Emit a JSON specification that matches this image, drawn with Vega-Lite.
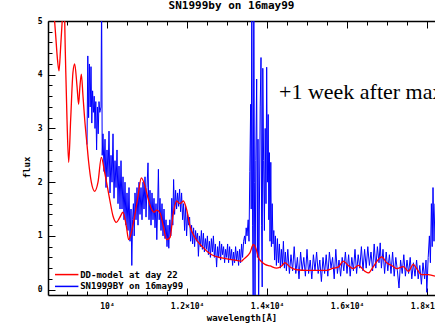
{
  "$schema": "https://vega.github.io/schema/vega-lite/v6.json",
  "autosize": {"type": "none"},
  "padding": {"left": 48, "top": 21, "right": 0, "bottom": 29},
  "width": 387,
  "height": 274,
  "background": "white",
  "title": {"text": "SN1999by on 16may99", "font": "DejaVu Sans Mono", "fontWeight": "bold", "fontSize": 11, "color": "black", "anchor": "middle", "dx": -10, "offset": 6},
  "config": {
    "view": {"stroke": null},
    "axis": {"grid": false, "domainColor": "black", "domainWidth": 1.5, "tickColor": "black", "tickWidth": 1, "labelColor": "black", "titleColor": "black", "labelFont": "DejaVu Sans Mono", "labelFontWeight": "bold", "labelFontSize": 8, "titleFont": "DejaVu Sans Mono", "titleFontWeight": "bold", "titleFontSize": 9, "labelOverlap": false, "labelFlush": false}
  },
  "datasets": {
    "sn": [
      {"x": 9500, "y": 2.7}, {"x": 9520, "y": 4.35}, {"x": 9540, "y": 3.2}, {"x": 9560, "y": 4.2}, {"x": 9580, "y": 3.4}, {"x": 9600, "y": 4.15}, {"x": 9620, "y": 3.1}, {"x": 9640, "y": 3.7}, {"x": 9660, "y": 3.3}, {"x": 9680, "y": 3.6}, {"x": 9700, "y": 3.0}, {"x": 9720, "y": 3.5}, {"x": 9740, "y": 2.6}, {"x": 9760, "y": 3.4}, {"x": 9780, "y": 2.9}, {"x": 9800, "y": 3.5}, {"x": 9820, "y": 3.3}, {"x": 9850, "y": 3.4}, {"x": 9865, "y": 5.6}, {"x": 9880, "y": 2.5},
      {"x": 9900, "y": 2.9}, {"x": 9925, "y": 2.2}, {"x": 9950, "y": 2.8}, {"x": 9975, "y": 1.9}, {"x": 10000, "y": 2.6}, {"x": 10025, "y": 2.1}, {"x": 10050, "y": 2.95}, {"x": 10075, "y": 1.8}, {"x": 10100, "y": 2.5}, {"x": 10125, "y": 2.0}, {"x": 10150, "y": 2.9}, {"x": 10175, "y": 1.7}, {"x": 10200, "y": 2.4}, {"x": 10225, "y": 1.9}, {"x": 10250, "y": 2.6}, {"x": 10275, "y": 1.6}, {"x": 10300, "y": 2.3}, {"x": 10325, "y": 1.5}, {"x": 10350, "y": 2.4}, {"x": 10375, "y": 1.5}, {"x": 10400, "y": 2.1}, {"x": 10425, "y": 1.3}, {"x": 10450, "y": 2.0}, {"x": 10475, "y": 1.2},
      {"x": 10500, "y": 1.8}, {"x": 10525, "y": 1.1}, {"x": 10550, "y": 1.9}, {"x": 10575, "y": 0.9}, {"x": 10600, "y": 1.5}, {"x": 10620, "y": 0.45}, {"x": 10640, "y": 1.3}, {"x": 10660, "y": 1.6}, {"x": 10680, "y": 1.0}, {"x": 10700, "y": 1.8},
      {"x": 10725, "y": 1.3}, {"x": 10750, "y": 1.9}, {"x": 10775, "y": 1.2}, {"x": 10800, "y": 2.0}, {"x": 10825, "y": 1.4}, {"x": 10850, "y": 1.9}, {"x": 10875, "y": 1.3}, {"x": 10900, "y": 2.0}, {"x": 10925, "y": 1.5}, {"x": 10950, "y": 2.1}, {"x": 10975, "y": 1.35}, {"x": 11000, "y": 1.9}, {"x": 11025, "y": 2.36}, {"x": 11050, "y": 1.3}, {"x": 11075, "y": 1.85}, {"x": 11100, "y": 1.2}, {"x": 11125, "y": 1.8}, {"x": 11150, "y": 1.3}, {"x": 11175, "y": 1.7}, {"x": 11200, "y": 1.15}, {"x": 11225, "y": 1.6}, {"x": 11245, "y": 0.93}, {"x": 11265, "y": 1.5}, {"x": 11285, "y": 2.24}, {"x": 11305, "y": 1.3}, {"x": 11325, "y": 1.7}, {"x": 11350, "y": 1.1}, {"x": 11375, "y": 1.6}, {"x": 11400, "y": 1.0}, {"x": 11425, "y": 1.5}, {"x": 11450, "y": 0.95}, {"x": 11475, "y": 1.3}, {"x": 11500, "y": 0.8}, {"x": 11525, "y": 1.2}, {"x": 11545, "y": 0.77}, {"x": 11570, "y": 1.3}, {"x": 11595, "y": 1.0}, {"x": 11620, "y": 1.7}, {"x": 11645, "y": 1.2}, {"x": 11665, "y": 2.05}, {"x": 11690, "y": 1.4}, {"x": 11715, "y": 1.85}, {"x": 11740, "y": 1.5}, {"x": 11765, "y": 1.8}, {"x": 11790, "y": 1.55}, {"x": 11815, "y": 1.87}, {"x": 11840, "y": 1.45}, {"x": 11865, "y": 1.8}, {"x": 11890, "y": 1.3}, {"x": 11915, "y": 1.6},
      {"x": 11940, "y": 1.1}, {"x": 11965, "y": 1.55}, {"x": 11990, "y": 1.0}, {"x": 12015, "y": 1.4}, {"x": 12040, "y": 1.2}, {"x": 12065, "y": 1.35}, {"x": 12090, "y": 0.9}, {"x": 12115, "y": 1.2}, {"x": 12140, "y": 0.85}, {"x": 12165, "y": 1.15}, {"x": 12190, "y": 0.8}, {"x": 12215, "y": 1.1}, {"x": 12240, "y": 0.9}, {"x": 12265, "y": 1.05}, {"x": 12285, "y": 0.62}, {"x": 12310, "y": 1.0}, {"x": 12335, "y": 0.8}, {"x": 12360, "y": 1.1}, {"x": 12385, "y": 0.75}, {"x": 12410, "y": 1.05}, {"x": 12435, "y": 0.7}, {"x": 12460, "y": 0.95}, {"x": 12485, "y": 0.75}, {"x": 12510, "y": 1.0}, {"x": 12535, "y": 0.65}, {"x": 12560, "y": 0.9}, {"x": 12585, "y": 0.6}, {"x": 12610, "y": 0.95},
      {"x": 12635, "y": 0.7}, {"x": 12660, "y": 1.0}, {"x": 12685, "y": 0.6}, {"x": 12710, "y": 0.85}, {"x": 12740, "y": 0.42}, {"x": 12765, "y": 0.8}, {"x": 12790, "y": 0.6}, {"x": 12815, "y": 0.9}, {"x": 12840, "y": 0.55}, {"x": 12865, "y": 0.85}, {"x": 12890, "y": 0.65}, {"x": 12915, "y": 0.8}, {"x": 12940, "y": 0.5}, {"x": 12965, "y": 0.75}, {"x": 12990, "y": 0.6}, {"x": 13015, "y": 0.85}, {"x": 13040, "y": 0.5}, {"x": 13065, "y": 0.8}, {"x": 13090, "y": 0.55}, {"x": 13115, "y": 0.75}, {"x": 13140, "y": 0.45}, {"x": 13165, "y": 0.7}, {"x": 13190, "y": 0.5}, {"x": 13215, "y": 0.8}, {"x": 13240, "y": 0.55}, {"x": 13265, "y": 0.72}, {"x": 13290, "y": 0.45}, {"x": 13315, "y": 0.75}, {"x": 13340, "y": 0.5}, {"x": 13365, "y": 0.85}, {"x": 13390, "y": 0.6}, {"x": 13415, "y": 0.9}, {"x": 13440, "y": 1.0}, {"x": 13460, "y": 0.85}, {"x": 13480, "y": 1.15},
      {"x": 13500, "y": 1.0}, {"x": 13530, "y": 1.3}, {"x": 13550, "y": 0.9}, {"x": 13570, "y": 2.2}, {"x": 13592, "y": 3.45}, {"x": 13605, "y": 1.5}, {"x": 13620, "y": 5.6}, {"x": 13640, "y": 1.2}, {"x": 13655, "y": -0.3}, {"x": 13670, "y": 5.8}, {"x": 13685, "y": 2.0}, {"x": 13700, "y": -0.4}, {"x": 13720, "y": 2.4}, {"x": 13742, "y": 3.92}, {"x": 13760, "y": 0.6}, {"x": 13775, "y": 2.8}, {"x": 13790, "y": -0.5}, {"x": 13810, "y": 1.5}, {"x": 13830, "y": 3.4}, {"x": 13850, "y": 4.32}, {"x": 13865, "y": 1.2}, {"x": 13880, "y": 0.05}, {"x": 13895, "y": 4.12}, {"x": 13915, "y": 2.4}, {"x": 13935, "y": 1.1}, {"x": 13955, "y": 3.0}, {"x": 13975, "y": 1.6}, {"x": 13992, "y": 4.14}, {"x": 14010, "y": 2.0}, {"x": 14030, "y": 3.26}, {"x": 14045, "y": 1.3}, {"x": 14060, "y": 2.55}, {"x": 14075, "y": 0.9}, {"x": 14095, "y": 2.37}, {"x": 14110, "y": 0.8}, {"x": 14130, "y": 1.6}, {"x": 14150, "y": 0.85},
      {"x": 14170, "y": 1.1}, {"x": 14190, "y": 0.55}, {"x": 14210, "y": 1.0}, {"x": 14235, "y": 0.45}, {"x": 14260, "y": 0.95}, {"x": 14285, "y": 0.5}, {"x": 14310, "y": 0.85}, {"x": 14335, "y": 0.4}, {"x": 14360, "y": 0.75}, {"x": 14385, "y": 0.45}, {"x": 14410, "y": 0.9}, {"x": 14435, "y": 0.4}, {"x": 14460, "y": 0.7}, {"x": 14485, "y": 0.35},
      {"x": 14520, "y": 0.75}, {"x": 14560, "y": 0.3}, {"x": 14600, "y": 0.65}, {"x": 14640, "y": 0.35}, {"x": 14680, "y": 0.8}, {"x": 14720, "y": 0.3}, {"x": 14760, "y": 0.6}, {"x": 14800, "y": 0.2}, {"x": 14840, "y": 0.7}, {"x": 14880, "y": 0.35}, {"x": 14920, "y": 0.6}, {"x": 14960, "y": 0.25}, {"x": 15000, "y": 0.75}, {"x": 15040, "y": 0.3}, {"x": 15080, "y": 0.55}, {"x": 15120, "y": 0.2}, {"x": 15160, "y": 0.65}, {"x": 15200, "y": 0.35}, {"x": 15240, "y": 0.7}, {"x": 15280, "y": 0.3}, {"x": 15320, "y": 0.55}, {"x": 15360, "y": 0.15}, {"x": 15400, "y": 0.6}, {"x": 15440, "y": 0.3}, {"x": 15480, "y": 0.65}, {"x": 15520, "y": 0.25}, {"x": 15560, "y": 0.7}, {"x": 15600, "y": 0.4}, {"x": 15640, "y": 0.6}, {"x": 15680, "y": 0.2}, {"x": 15720, "y": 0.75}, {"x": 15760, "y": 0.3}, {"x": 15800, "y": 0.55}, {"x": 15840, "y": 0.25}, {"x": 15880, "y": 0.6}, {"x": 15920, "y": 0.35}, {"x": 15960, "y": 0.7}, {"x": 16000, "y": 0.3}, {"x": 16040, "y": 0.65}, {"x": 16080, "y": 0.25}, {"x": 16120, "y": 0.6}, {"x": 16160, "y": 0.35}, {"x": 16200, "y": 0.75}, {"x": 16240, "y": 0.3}, {"x": 16280, "y": 0.65}, {"x": 16320, "y": 0.4}, {"x": 16360, "y": 0.8},
      {"x": 16400, "y": 0.35}, {"x": 16440, "y": 0.75}, {"x": 16480, "y": 0.4}, {"x": 16520, "y": 0.8}, {"x": 16560, "y": 0.45}, {"x": 16600, "y": 0.7}, {"x": 16640, "y": 0.35}, {"x": 16680, "y": 0.85}, {"x": 16720, "y": 0.4}, {"x": 16760, "y": 0.8}, {"x": 16800, "y": 0.5}, {"x": 16830, "y": 0.87}, {"x": 16860, "y": 0.4}, {"x": 16900, "y": 0.75}, {"x": 16940, "y": 0.3}, {"x": 16980, "y": 0.7}, {"x": 17020, "y": 0.35}, {"x": 17060, "y": 0.65}, {"x": 17100, "y": 0.3}, {"x": 17140, "y": 0.7}, {"x": 17180, "y": 0.25}, {"x": 17220, "y": 0.6}, {"x": 17260, "y": 0.35}, {"x": 17300, "y": 0.03}, {"x": 17340, "y": 0.55}, {"x": 17380, "y": 0.3}, {"x": 17420, "y": 0.65}, {"x": 17460, "y": 0.25}, {"x": 17500, "y": 0.55}, {"x": 17540, "y": 0.3}, {"x": 17580, "y": 0.6}, {"x": 17620, "y": 0.2}, {"x": 17660, "y": 0.5}, {"x": 17700, "y": 0.25}, {"x": 17740, "y": 0.55}, {"x": 17780, "y": 0.2}, {"x": 17820, "y": 0.45}, {"x": 17860, "y": 0.1}, {"x": 17900, "y": 0.5}, {"x": 17940, "y": 0.2}, {"x": 17975, "y": 0.55}, {"x": 17995, "y": -0.05}, {"x": 18030, "y": 0.6}, {"x": 18060, "y": 1.0}, {"x": 18085, "y": 0.5}, {"x": 18110, "y": 1.6}, {"x": 18130, "y": 0.8}, {"x": 18150, "y": 1.9}, {"x": 18175, "y": 0.9}, {"x": 18200, "y": 1.6}
    ],
    "model": [
      {"x": 8525, "y": 6.5}, {"x": 8680, "y": 5.1}, {"x": 8720, "y": 4.7}, {"x": 8760, "y": 4.3}, {"x": 8800, "y": 4.07}, {"x": 8840, "y": 4.5}, {"x": 8880, "y": 5.0}, {"x": 8920, "y": 5.6}, {"x": 8958, "y": 4.42}, {"x": 9000, "y": 3.17}, {"x": 9042, "y": 2.37}, {"x": 9092, "y": 3.17}, {"x": 9150, "y": 4.05}, {"x": 9192, "y": 4.2}, {"x": 9250, "y": 3.79}, {"x": 9290, "y": 3.45}, {"x": 9320, "y": 3.75}, {"x": 9358, "y": 4.01}, {"x": 9400, "y": 3.6}, {"x": 9442, "y": 3.17}, {"x": 9500, "y": 2.7}, {"x": 9542, "y": 2.37}, {"x": 9608, "y": 2.0}, {"x": 9692, "y": 1.83}, {"x": 9775, "y": 2.0}, {"x": 9858, "y": 2.46}, {"x": 9942, "y": 2.18}, {"x": 10067, "y": 1.68}, {"x": 10150, "y": 1.37}, {"x": 10233, "y": 1.25}, {"x": 10317, "y": 1.34}, {"x": 10400, "y": 1.44}, {"x": 10483, "y": 1.18}, {"x": 10542, "y": 0.93}, {"x": 10608, "y": 1.06}, {"x": 10692, "y": 1.37}, {"x": 10775, "y": 1.74}, {"x": 10858, "y": 2.08}, {"x": 10950, "y": 1.93}, {"x": 11033, "y": 1.68}, {"x": 11117, "y": 1.49}, {"x": 11180, "y": 1.44}, {"x": 11242, "y": 1.48}, {"x": 11325, "y": 1.43}, {"x": 11408, "y": 1.18}, {"x": 11492, "y": 0.93}, {"x": 11575, "y": 0.97}, {"x": 11658, "y": 1.43}, {"x": 11742, "y": 1.65}, {"x": 11825, "y": 1.6}, {"x": 11908, "y": 1.65}, {"x": 11992, "y": 1.49}, {"x": 12075, "y": 1.18}, {"x": 12200, "y": 0.97}, {"x": 12367, "y": 0.81}, {"x": 12617, "y": 0.65}, {"x": 12867, "y": 0.59}, {"x": 13117, "y": 0.56}, {"x": 13367, "y": 0.53}, {"x": 13408, "y": 0.56}, {"x": 13525, "y": 0.64}, {"x": 13575, "y": 0.69}, {"x": 13658, "y": 0.84}, {"x": 13742, "y": 0.72}, {"x": 13783, "y": 0.6}, {"x": 13867, "y": 0.52}, {"x": 13950, "y": 0.47}, {"x": 14075, "y": 0.44}, {"x": 14242, "y": 0.4}, {"x": 14367, "y": 0.44}, {"x": 14450, "y": 0.5}, {"x": 14575, "y": 0.42}, {"x": 14742, "y": 0.37}, {"x": 14992, "y": 0.36}, {"x": 15242, "y": 0.36}, {"x": 15492, "y": 0.36}, {"x": 15658, "y": 0.4}, {"x": 15783, "y": 0.42}, {"x": 15908, "y": 0.53}, {"x": 16033, "y": 0.45}, {"x": 16158, "y": 0.39}, {"x": 16283, "y": 0.45}, {"x": 16450, "y": 0.34}, {"x": 16533, "y": 0.31}, {"x": 16658, "y": 0.43}, {"x": 16783, "y": 0.56}, {"x": 16867, "y": 0.61}, {"x": 16992, "y": 0.5}, {"x": 17117, "y": 0.45}, {"x": 17242, "y": 0.39}, {"x": 17408, "y": 0.43}, {"x": 17533, "y": 0.34}, {"x": 17658, "y": 0.47}, {"x": 17742, "y": 0.39}, {"x": 17867, "y": 0.28}, {"x": 18033, "y": 0.28}, {"x": 18200, "y": 0.25}
    ],
    "note": [{"x": 14300, "y": 3.54, "label": "+1 week after max"}],
    "key": [
      {"x1": 8700, "x2": 9285, "lx": 9330, "y": 0.28, "series": "DD-model at day 22"},
      {"x1": 8700, "x2": 9285, "lx": 9330, "y": 0.06, "series": "SN1999BY on 16may99"}
    ]
  },
  "layer": [
    {
      "data": {"name": "sn"},
      "mark": {"type": "line", "clip": true, "strokeWidth": 1, "interpolate": "linear"},
      "encoding": {
        "x": {"field": "x", "type": "quantitative", "scale": {"domain": [8525, 18200], "nice": false, "zero": false},
          "axis": {"orient": "bottom", "title": "wavelength[Å]", "titlePadding": 3,
            "values": [10000, 12000, 14000, 16000, 18000],
            "labelExpr": "datum.value === 10000 ? '10⁴' : format(datum.value / 10000, '.1f') + '×10⁴'",
            "tickSize": -7, "labelPadding": 14}},
        "y": {"field": "y", "type": "quantitative", "scale": {"domain": [-0.1, 5], "nice": false, "zero": false},
          "axis": {"orient": "left", "title": "flux", "titlePadding": 6, "titleY": 146,
            "values": [0, 1, 2, 3, 4, 5], "format": "d",
            "tickSize": -7, "labelPadding": 13}},
        "color": {"datum": "SN1999BY on 16may99", "type": "nominal",
          "scale": {"domain": ["DD-model at day 22", "SN1999BY on 16may99"], "range": ["#ff0000", "#0000ff"]},
          "legend": null}
      }
    },
    {
      "data": {"name": "model"},
      "mark": {"type": "line", "clip": true, "strokeWidth": 1.3, "interpolate": "monotone"},
      "encoding": {
        "x": {"field": "x", "type": "quantitative",
          "axis": {"orient": "bottom", "title": null, "labels": false, "domain": false,
            "values": [9000, 9500, 10500, 11000, 11500, 12500, 13000, 13500, 14500, 15000, 15500, 16500, 17000, 17500],
            "tickSize": -4}},
        "y": {"field": "y", "type": "quantitative",
          "axis": {"orient": "left", "title": null, "labels": false, "domain": false,
            "values": [0.2, 0.4, 0.6, 0.8, 1.2, 1.4, 1.6, 1.8, 2.2, 2.4, 2.6, 2.8, 3.2, 3.4, 3.6, 3.8, 4.2, 4.4, 4.6, 4.8],
            "tickSize": -4}},
        "color": {"datum": "DD-model at day 22", "type": "nominal", "legend": null}
      }
    },
    {
      "data": {"name": "note"},
      "mark": {"type": "text", "font": "Liberation Serif", "fontSize": 22, "align": "left", "baseline": "alphabetic", "color": "black"},
      "encoding": {
        "x": {"field": "x", "type": "quantitative",
          "axis": {"orient": "top", "title": null, "labels": false,
            "values": [10000, 12000, 14000, 16000, 18000], "tickSize": -7}},
        "y": {"field": "y", "type": "quantitative", "axis": null},
        "text": {"field": "label"}
      }
    },
    {
      "data": {"name": "key"},
      "mark": {"type": "rule", "strokeWidth": 1.5},
      "encoding": {
        "x": {"field": "x1", "type": "quantitative",
          "axis": {"orient": "top", "title": null, "labels": false, "domain": false,
            "values": [9000, 9500, 10500, 11000, 11500, 12500, 13000, 13500, 14500, 15000, 15500, 16500, 17000, 17500],
            "tickSize": -4}},
        "x2": {"field": "x2"},
        "y": {"field": "y", "type": "quantitative", "axis": null},
        "color": {"field": "series", "type": "nominal", "legend": null}
      }
    },
    {
      "data": {"name": "key"},
      "mark": {"type": "text", "font": "DejaVu Sans Mono", "fontWeight": "bold", "fontSize": 9, "align": "left", "baseline": "middle", "color": "black"},
      "encoding": {
        "x": {"field": "lx", "type": "quantitative", "axis": null},
        "y": {"field": "y", "type": "quantitative", "axis": null},
        "text": {"field": "series"}
      }
    }
  ],
  "resolve": {"axis": {"x": "independent", "y": "independent"}}
}
